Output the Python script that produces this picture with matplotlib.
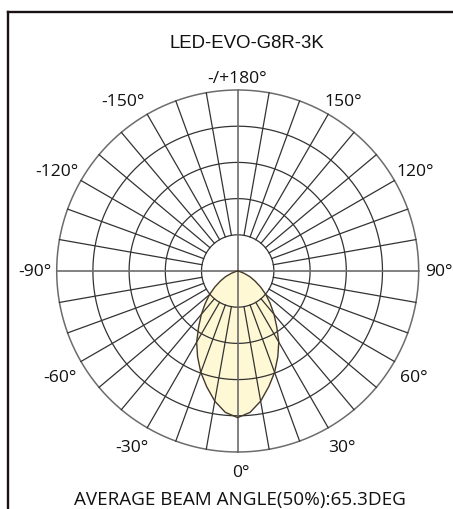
import numpy as np
import matplotlib
matplotlib.use("Agg")
import matplotlib.pyplot as plt
from matplotlib.lines import Line2D

# ---- data ----
title = "LED-EVO-G8R-3K"
footer = "AVERAGE BEAM ANGLE(50%):65.3DEG"
angles_deg = [0, 5, 10, 15, 20, 25, 30, 35, 40, 45, 50, 55, 60, 65, 70, 75, 80, 85, 90]
intensity = [4.05, 3.92, 3.65, 3.31, 2.98, 2.62, 2.27, 1.88, 1.56, 1.27, 1.02,
             0.77, 0.55, 0.37, 0.19, 0.06, 0.0, 0.0, 0.0]
ring_values = [1, 2, 3, 4, 5]
spoke_angles = list(range(0, 360, 10))
tick_labels = ["-/+180°", "-150°", "150°", "-120°", "120°", "-90°", "90°",
               "-60°", "60°", "-30°", "30°", "0°"]

# ---- layout (pixel positions of the labels, x centre / baseline) ----
W, H = 453, 509
label_px = [(237.5, 83), (123, 106), (343, 106), (56.5, 176), (415, 176),
            (35, 276), (438.5, 276), (60, 382), (414, 382), (132, 452),
            (342, 452), (241, 477)]
cx, cy, R = 237.7, 271.0, 181.0

GRID = "#333333"
AXIS = "#6c6c6c"
FILL = "#fff8d5"
EDGE = "#443a2c"

fig = plt.figure(figsize=(W / 100, H / 100), dpi=100)
fig.patch.set_facecolor("white")

ax = fig.add_axes([(cx - R) / W, (H - cy - R) / H, 2 * R / W, 2 * R / H],
                  projection="polar")
ax.set_theta_zero_location("S")
ax.set_theta_direction(1)
ax.set_ylim(0, ring_values[-1])
ax.axis("off")

# beam (symmetric)
a = np.array(angles_deg, dtype=float)
v = np.array(intensity, dtype=float)
th = np.deg2rad(np.r_[-a[::-1], a[1:]])
rr = np.r_[v[::-1], v[1:]]
ax.fill(th, rr, color=FILL, lw=0, zorder=1)

# rings
tt = np.linspace(0, 2 * np.pi, 721)
for rv in ring_values[:-1]:
    ax.plot(tt, np.full_like(tt, rv), color=GRID, lw=0.9, zorder=3, clip_on=False)
ax.plot(tt, np.full_like(tt, ring_values[-1]), color=AXIS, lw=1.1, zorder=3, clip_on=False)

# spokes
for s in spoke_angles:
    t = np.deg2rad(s)
    if s % 90 == 0:
        ax.plot([t, t], [0, ring_values[-1]], color=AXIS, lw=1.2, zorder=4, clip_on=False)
    else:
        ax.plot([t, t], [ring_values[0], ring_values[-1]], color=GRID, lw=0.9, zorder=3,
                clip_on=False)

# beam outline
ax.plot(th, rr, color=EDGE, lw=1.0, zorder=5, clip_on=False)

# labels
for lab, (x, y) in zip(tick_labels, label_px):
    fig.text(x / W, 1 - y / H, lab, ha="center", va="baseline",
             fontsize=12.6, family="Open Sans", color="#111111")

fig.text(247 / W, 1 - 48 / H, title, ha="center", va="baseline",
         fontsize=13.4, family="Liberation Sans", color="#111111")
fig.text(239.5 / W, 1 - 505 / H, footer, ha="center", va="baseline",
         fontsize=13.6, family="Open Sans", color="#111111")

# frame (left and top edges)
fig.add_artist(Line2D([8 / W, 1.0], [1 - 12 / H, 1 - 12 / H], transform=fig.transFigure,
                      color="#1a1212", lw=1.7))
fig.add_artist(Line2D([8 / W, 8 / W], [0.0, 1 - 12 / H], transform=fig.transFigure,
                      color="#1a1212", lw=1.7))

fig.savefig("out.png", dpi=100, facecolor="white")
